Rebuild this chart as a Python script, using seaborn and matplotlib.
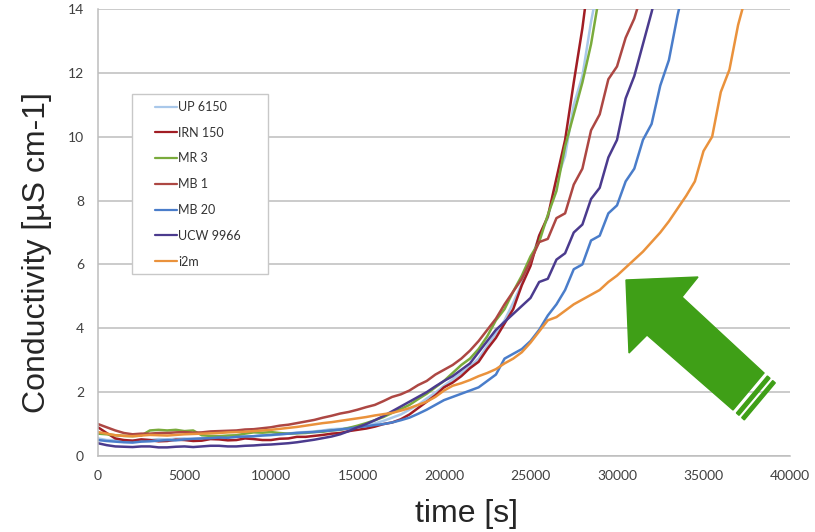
import pandas as pd
import seaborn as sns
import matplotlib.pyplot as plt
from matplotlib.patches import Polygon, Rectangle

# sample times [s]
time_s = [0, 500, 1000, 1500, 2000, 2500, 3000, 3500, 4000, 4500,
          5000, 5500, 6000, 6500, 7000, 7500, 8000, 8500, 9000, 9500,
          10000, 10500, 11000, 11500, 12000, 12500, 13000, 13500, 14000, 14500,
          15000, 15500, 16000, 16500, 17000, 17500, 18000, 18500, 19000, 19500,
          20000, 20500, 21000, 21500, 22000, 22500, 23000, 23500, 24000, 24500,
          25000, 25500, 26000, 26500, 27000, 27500, 28000, 28500, 29000, 29500,
          30000, 30500, 31000, 31500, 32000, 32500, 33000, 33500, 34000, 34500,
          35000, 35500, 36000, 36500, 37000, 37500]

# conductivity [uS/cm]
up6150 = [0.55, 0.5, 0.5, 0.47, 0.48, 0.51, 0.5, 0.53, 0.52, 0.54,
          0.55, 0.53, 0.55, 0.58, 0.57, 0.59, 0.6, 0.6, 0.62, 0.66,
          0.65, 0.67, 0.7, 0.74, 0.75, 0.77, 0.8, 0.84, 0.85, 0.88,
          0.92, 0.99, 1.02, 1.1, 1.2, 1.3, 1.45, 1.6, 1.8, 1.98,
          2.2, 2.4, 2.6, 2.8, 3.05, 3.45, 3.85, 4.25, 4.8, 5.4,
          6.05, 6.9, 7.45, 8.6, 9.4, 11.0, 11.9, 13.6, 15.0]
irn150 = [0.9, 0.72, 0.55, 0.5, 0.48, 0.52, 0.5, 0.46, 0.47, 0.51,
          0.5, 0.47, 0.48, 0.53, 0.52, 0.49, 0.5, 0.55, 0.53, 0.5,
          0.5, 0.54, 0.55, 0.6, 0.6, 0.63, 0.66, 0.7, 0.72, 0.78,
          0.82, 0.86, 0.92, 1.0, 1.05, 1.15, 1.3, 1.5, 1.7, 1.9,
          2.15, 2.3, 2.5, 2.75, 2.95, 3.35, 3.7, 4.15, 4.6, 5.35,
          5.95, 6.9, 7.5, 8.7, 9.9, 11.7, 13.4, 15.5]
mr3 = [0.7, 0.68, 0.65, 0.63, 0.62, 0.64, 0.8, 0.82, 0.8, 0.82,
       0.78, 0.8, 0.65, 0.63, 0.62, 0.64, 0.65, 0.7, 0.74, 0.73,
       0.75, 0.72, 0.7, 0.71, 0.72, 0.75, 0.76, 0.8, 0.82, 0.88,
       0.95, 1.03, 1.12, 1.22, 1.35, 1.47, 1.6, 1.78, 1.95, 2.15,
       2.35, 2.6, 2.85, 3.05, 3.35, 3.75, 4.25, 4.6, 5.15, 5.65,
       6.25, 6.7, 7.55, 8.3, 9.7, 10.7, 11.7, 12.9, 14.5]
mb1 = [1.0, 0.9, 0.8, 0.72, 0.68, 0.7, 0.7, 0.72, 0.72, 0.74,
       0.75, 0.73, 0.74, 0.77, 0.78, 0.79, 0.8, 0.83, 0.84, 0.87,
       0.9, 0.95, 0.98, 1.03, 1.08, 1.13, 1.2, 1.26, 1.33, 1.38,
       1.45, 1.53, 1.6, 1.72, 1.85, 1.93, 2.05, 2.22, 2.35, 2.55,
       2.7, 2.85, 3.05, 3.3, 3.6, 3.95, 4.3, 4.75, 5.15, 5.55,
       6.1, 6.7, 6.8, 7.45, 7.6, 8.5, 9.0, 10.2, 10.7, 11.8,
       12.2, 13.1, 13.7, 14.6]
mb20 = [0.5, 0.47, 0.45, 0.43, 0.42, 0.45, 0.46, 0.48, 0.5, 0.49,
        0.52, 0.54, 0.55, 0.56, 0.58, 0.57, 0.6, 0.61, 0.62, 0.64,
        0.66, 0.68, 0.7, 0.72, 0.74, 0.75, 0.78, 0.8, 0.83, 0.86,
        0.9, 0.93, 0.97, 1.0, 1.05, 1.12, 1.2, 1.32, 1.45, 1.6,
        1.75, 1.85, 1.95, 2.05, 2.15, 2.35, 2.55, 3.05, 3.2, 3.35,
        3.6, 3.95, 4.4, 4.75, 5.2, 5.85, 6.0, 6.75, 6.9, 7.6,
        7.85, 8.6, 9.0, 9.9, 10.4, 11.6, 12.4, 13.8, 15.0]
ucw9966 = [0.4, 0.34, 0.3, 0.29, 0.28, 0.3, 0.3, 0.27, 0.27, 0.29,
           0.3, 0.28, 0.3, 0.32, 0.32, 0.3, 0.3, 0.32, 0.33, 0.35,
           0.36, 0.38, 0.4, 0.43, 0.47, 0.51, 0.56, 0.61, 0.68, 0.78,
           0.9, 1.0, 1.12, 1.25, 1.4, 1.55, 1.7, 1.85, 2.0, 2.18,
           2.35, 2.5, 2.7, 2.9, 3.25, 3.6, 3.95, 4.2, 4.45, 4.7,
           4.95, 5.45, 5.55, 6.15, 6.35, 7.0, 7.25, 8.05, 8.4, 9.35,
           9.9, 11.2, 11.9, 12.9, 13.9, 15.0]
i2m = [0.75, 0.7, 0.65, 0.63, 0.62, 0.64, 0.66, 0.65, 0.64, 0.66,
       0.68, 0.69, 0.7, 0.71, 0.72, 0.74, 0.75, 0.76, 0.78, 0.8,
       0.82, 0.85, 0.88, 0.91, 0.95, 0.99, 1.03, 1.06, 1.1, 1.14,
       1.18, 1.22, 1.27, 1.31, 1.35, 1.42, 1.5, 1.6, 1.7, 1.85,
       2.05, 2.2, 2.28, 2.38, 2.5, 2.6, 2.72, 2.9, 3.05, 3.25,
       3.55, 3.9, 4.25, 4.35, 4.55, 4.75, 4.9, 5.05, 5.2, 5.45,
       5.65, 5.9, 6.15, 6.4, 6.7, 7.0, 7.35, 7.75, 8.15, 8.6,
       9.55, 10.0, 11.4, 12.1, 13.5, 14.5]

series = {"UP 6150": up6150, "IRN 150": irn150, "MR 3": mr3, "MB 1": mb1,
          "MB 20": mb20, "UCW 9966": ucw9966, "i2m": i2m}
colors = ["#a9c8ea", "#a11d24", "#7aab3c", "#ad4743", "#4a7dca", "#4b3b8e", "#ea923c"]

rows = []
for name, vals in series.items():
    for t, v in zip(time_s, vals):
        rows.append((name, t, v))
df = pd.DataFrame(rows, columns=["sample", "time", "cond"])

sns.set_style("white")
fig = plt.figure(figsize=(8.15, 5.32), dpi=100)
ax = fig.add_axes([98 / 815, 76 / 532, 692 / 815, 447 / 532])

sns.lineplot(data=df, x="time", y="cond", hue="sample", palette=colors,
             estimator=None, sort=False, linewidth=1.8, ax=ax)

ax.set_xlim(0, 40000)
ax.set_ylim(0, 14)
ax.set_xticks(range(0, 40001, 5000))
ax.set_yticks(range(0, 15, 2))
ax.yaxis.grid(True, color="#bdbdbd", linewidth=1.1)
ax.set_axisbelow(True)
for s in ["top", "right"]:
    ax.spines[s].set_visible(False)
for s in ["left", "bottom"]:
    ax.spines[s].set_color("#bdbdbd")
    ax.spines[s].set_linewidth(1.1)
ax.tick_params(axis="both", length=5, width=1, color="#bdbdbd",
               labelsize=10, labelcolor="#404040", pad=5)
for lab in ax.get_xticklabels() + ax.get_yticklabels():
    lab.set_family("Lato")

ax.set_xlabel("time [s]", fontsize=23, family="Liberation Sans")
ax.set_ylabel("Conductivity [µS cm-1]", fontsize=23, family="Liberation Sans")
ax.xaxis.set_label_coords(0.532, -0.096)
ax.yaxis.set_label_coords(-0.066, 0.456)


def px(x, y):
    return (x / 815, (532 - y) / 532)


# legend box drawn by hand so the padding matches
ax.add_patch(Rectangle(px(132, 274), 136 / 815, 180 / 532, transform=fig.transFigure,
                       facecolor="white", edgecolor="#c8c8c8", linewidth=1, zorder=4))
leg = ax.legend(loc="upper left", bbox_to_anchor=px(155, 101),
                bbox_transform=fig.transFigure, fontsize=9, frameon=False,
                handlelength=1.76, labelspacing=1.1, borderpad=0,
                handletextpad=0.1, borderaxespad=0)
leg.set_zorder(5)
for line in leg.get_lines():
    line.set_linewidth(1.6)
for txt in leg.get_texts():
    txt.set_family("Lato")
    txt.set_color("#333333")

green = "#3f9f17"
arrow = [px(626, 280), px(698, 277), px(682, 297), px(764, 373),
         px(733, 410), px(647, 335), px(629, 353)]
fig.patches.append(Polygon(arrow, closed=True, color=green,
                           transform=fig.transFigure, figure=fig))
stripe1 = [px(767.4, 376), px(736.4, 413), px(739, 415.3), px(770, 378.3)]
stripe2 = [px(772.7, 380.6), px(741.7, 417.6), px(744.3, 419.9), px(775.3, 382.9)]
for s in (stripe1, stripe2):
    fig.patches.append(Polygon(s, closed=True, color=green,
                               transform=fig.transFigure, figure=fig))

fig.savefig("out.png", dpi=100)
